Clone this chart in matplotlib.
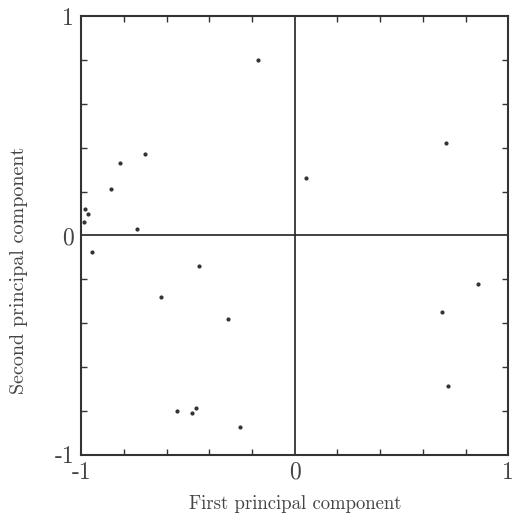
import numpy as np
import matplotlib.pyplot as plt
from matplotlib.ticker import MultipleLocator

plt.rcParams['font.family'] = 'serif'
plt.rcParams['font.serif'] = ['cmr10', 'DejaVu Serif']
plt.rcParams['axes.unicode_minus'] = False

# component scores
pc1 = [-0.17, -0.70, -0.82, -0.86, -0.74, -0.98, -0.97, -0.985, -0.95, 0.055,
       0.71, -0.45, -0.625, -0.31, -0.55, -0.48, -0.46, -0.255, 0.857, 0.69,
       0.72]
pc2 = [0.80, 0.37, 0.33, 0.21, 0.03, 0.12, 0.10, 0.06, -0.075, 0.26,
       0.42, -0.14, -0.28, -0.38, -0.80, -0.81, -0.785, -0.875, -0.22, -0.35,
       -0.685]

tick_vals = [-1, 0, 1]
tick_text = ['-1', '0', '1']

fig = plt.figure(figsize=(5.17, 5.21), dpi=100)
ax = fig.add_axes([0.157, 0.127, 0.826, 0.842])

ax.scatter(pc1, pc2, s=4, color='#333333', marker='o', zorder=3)
ax.axhline(0, color='#222222', lw=1.2)
ax.axvline(0, color='#222222', lw=1.2)

ax.set_xlim(-1, 1)
ax.set_ylim(-1, 1)
ax.set_xticks(tick_vals)
ax.set_xticklabels(tick_text)
ax.set_yticks(tick_vals)
ax.set_yticklabels(tick_text)
ax.xaxis.set_minor_locator(MultipleLocator(0.2))
ax.yaxis.set_minor_locator(MultipleLocator(0.2))
ax.tick_params(which='major', length=0, labelsize=17, colors='#444444', pad=5)
ax.tick_params(which='minor', direction='in', length=4, width=1,
               top=True, right=True, color='#333333')

for s in ax.spines.values():
    s.set_linewidth(1.5)
    s.set_color('#333333')

ax.set_xlabel('First principal component', fontsize=13.5, color='#444444', labelpad=8)
ax.set_ylabel('Second principal component', fontsize=14.5, color='#444444')
ax.yaxis.set_label_coords(-0.125, 0.42)

fig.savefig('out.png', dpi=100)
